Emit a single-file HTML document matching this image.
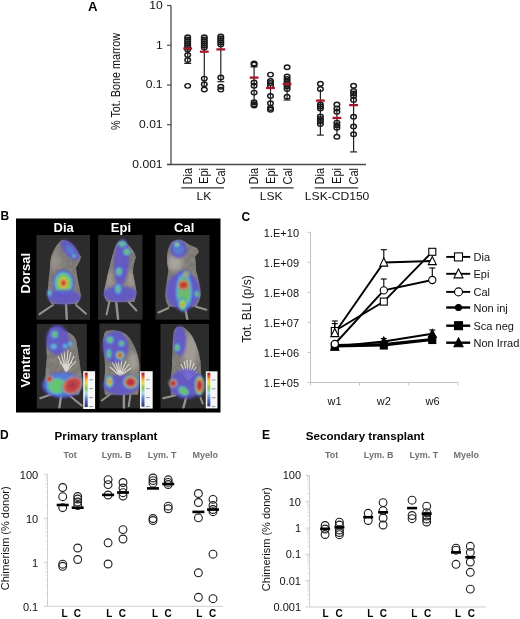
<!DOCTYPE html>
<html><head><meta charset="utf-8"><style>
html,body{margin:0;padding:0;background:#fff;}
svg{display:block;will-change:transform;}
text{font-family:"Liberation Sans", sans-serif;}
</style></head><body>
<svg width="520" height="619" viewBox="0 0 520 619">
<rect width="520" height="619" fill="#fff"/>
<line x1="171" y1="5.5" x2="171" y2="164.5" stroke="#4a4a4a" stroke-width="1.3"/>
<line x1="167" y1="164.5" x2="366" y2="164.5" stroke="#4a4a4a" stroke-width="1.3"/>
<line x1="167" y1="5.5" x2="171" y2="5.5" stroke="#4a4a4a" stroke-width="1.2"/>
<text transform="translate(162.6 8.9) scale(1.1 1)" font-size="11" text-anchor="end" fill="#111">10</text>
<line x1="167" y1="45.25" x2="171" y2="45.25" stroke="#4a4a4a" stroke-width="1.2"/>
<text transform="translate(162.6 48.65) scale(1.1 1)" font-size="11" text-anchor="end" fill="#111">1</text>
<line x1="167" y1="85.0" x2="171" y2="85.0" stroke="#4a4a4a" stroke-width="1.2"/>
<text transform="translate(162.6 88.4) scale(1.1 1)" font-size="11" text-anchor="end" fill="#111">0.1</text>
<line x1="167" y1="124.75" x2="171" y2="124.75" stroke="#4a4a4a" stroke-width="1.2"/>
<text transform="translate(162.6 128.15) scale(1.1 1)" font-size="11" text-anchor="end" fill="#111">0.01</text>
<line x1="167" y1="164.5" x2="171" y2="164.5" stroke="#4a4a4a" stroke-width="1.2"/>
<text transform="translate(162.6 167.9) scale(1.1 1)" font-size="11" text-anchor="end" fill="#111">0.001</text>
<text transform="translate(88 10.5) scale(1.1 1)" font-size="12" text-anchor="start" font-weight="bold" fill="#000">A</text>
<text transform="translate(119.6 81.5) scale(1.1 1) rotate(-90)" font-size="10.8" text-anchor="middle" fill="#111">% Tot. Bone marrow</text>
<text transform="translate(191.89999999999998 168) scale(1.1 1) rotate(-90)" font-size="11" text-anchor="end" fill="#111">Dia</text>
<text transform="translate(208.39999999999998 168) scale(1.1 1) rotate(-90)" font-size="11" text-anchor="end" fill="#111">Epi</text>
<text transform="translate(224.89999999999998 168) scale(1.1 1) rotate(-90)" font-size="11" text-anchor="end" fill="#111">Cal</text>
<line x1="181.3" y1="187.9" x2="224" y2="187.9" stroke="#333" stroke-width="1.3"/>
<text transform="translate(203.9 200) scale(1.1 1)" font-size="11" text-anchor="middle" fill="#111">LK</text>
<text transform="translate(258.3 168) scale(1.1 1) rotate(-90)" font-size="11" text-anchor="end" fill="#111">Dia</text>
<text transform="translate(275.0 168) scale(1.1 1) rotate(-90)" font-size="11" text-anchor="end" fill="#111">Epi</text>
<text transform="translate(292.09999999999997 168) scale(1.1 1) rotate(-90)" font-size="11" text-anchor="end" fill="#111">Cal</text>
<line x1="250.4" y1="187.9" x2="293.6" y2="187.9" stroke="#333" stroke-width="1.3"/>
<text transform="translate(271.1 200) scale(1.1 1)" font-size="11" text-anchor="middle" fill="#111">LSK</text>
<text transform="translate(324.2 168) scale(1.1 1) rotate(-90)" font-size="11" text-anchor="end" fill="#111">Dia</text>
<text transform="translate(340.8 168) scale(1.1 1) rotate(-90)" font-size="11" text-anchor="end" fill="#111">Epi</text>
<text transform="translate(358.0 168) scale(1.1 1) rotate(-90)" font-size="11" text-anchor="end" fill="#111">Cal</text>
<line x1="314.8" y1="187.9" x2="358.1" y2="187.9" stroke="#333" stroke-width="1.3"/>
<text transform="translate(337.1 200) scale(1.1 1)" font-size="11" text-anchor="middle" fill="#111">LSK-CD150</text>
<line x1="187.7" y1="37" x2="187.7" y2="63.4" stroke="#222" stroke-width="1.2"/>
<line x1="184.2" y1="63.4" x2="191.2" y2="63.4" stroke="#222" stroke-width="1.2"/>
<ellipse cx="187.7" cy="37.3" rx="2.8" ry="2.25" fill="none" stroke="#1a1a1a" stroke-width="1.45"/>
<ellipse cx="187.7" cy="39.5" rx="2.8" ry="2.25" fill="none" stroke="#1a1a1a" stroke-width="1.45"/>
<ellipse cx="187.7" cy="41.5" rx="2.8" ry="2.25" fill="none" stroke="#1a1a1a" stroke-width="1.45"/>
<ellipse cx="187.7" cy="43.5" rx="2.8" ry="2.25" fill="none" stroke="#1a1a1a" stroke-width="1.45"/>
<ellipse cx="187.7" cy="45.5" rx="2.8" ry="2.25" fill="none" stroke="#1a1a1a" stroke-width="1.45"/>
<ellipse cx="187.7" cy="47.5" rx="2.8" ry="2.25" fill="none" stroke="#1a1a1a" stroke-width="1.45"/>
<ellipse cx="187.7" cy="49.5" rx="2.8" ry="2.25" fill="none" stroke="#1a1a1a" stroke-width="1.45"/>
<ellipse cx="187.7" cy="55" rx="2.8" ry="2.25" fill="none" stroke="#1a1a1a" stroke-width="1.45"/>
<ellipse cx="187.7" cy="60" rx="2.8" ry="2.25" fill="none" stroke="#1a1a1a" stroke-width="1.45"/>
<ellipse cx="187.7" cy="85.85" rx="2.8" ry="2.25" fill="none" stroke="#1a1a1a" stroke-width="1.45"/>
<line x1="183.29999999999998" y1="48.5" x2="192.1" y2="48.5" stroke="#a8162a" stroke-width="2.3"/>
<line x1="204.3" y1="38" x2="204.3" y2="88" stroke="#222" stroke-width="1.2"/>
<ellipse cx="204.3" cy="37.2" rx="2.8" ry="2.25" fill="none" stroke="#1a1a1a" stroke-width="1.45"/>
<ellipse cx="204.3" cy="39.5" rx="2.8" ry="2.25" fill="none" stroke="#1a1a1a" stroke-width="1.45"/>
<ellipse cx="204.3" cy="41.5" rx="2.8" ry="2.25" fill="none" stroke="#1a1a1a" stroke-width="1.45"/>
<ellipse cx="204.3" cy="43.5" rx="2.8" ry="2.25" fill="none" stroke="#1a1a1a" stroke-width="1.45"/>
<ellipse cx="204.3" cy="45.5" rx="2.8" ry="2.25" fill="none" stroke="#1a1a1a" stroke-width="1.45"/>
<ellipse cx="204.3" cy="47.5" rx="2.8" ry="2.25" fill="none" stroke="#1a1a1a" stroke-width="1.45"/>
<ellipse cx="204.3" cy="78.6" rx="2.8" ry="2.25" fill="none" stroke="#1a1a1a" stroke-width="1.45"/>
<ellipse cx="204.3" cy="84.2" rx="2.8" ry="2.25" fill="none" stroke="#1a1a1a" stroke-width="1.45"/>
<ellipse cx="204.3" cy="89.4" rx="2.8" ry="2.25" fill="none" stroke="#1a1a1a" stroke-width="1.45"/>
<line x1="199.9" y1="51.7" x2="208.70000000000002" y2="51.7" stroke="#a8162a" stroke-width="2.3"/>
<line x1="220.8" y1="37" x2="220.8" y2="81.7" stroke="#222" stroke-width="1.2"/>
<line x1="217.3" y1="81.7" x2="224.3" y2="81.7" stroke="#222" stroke-width="1.2"/>
<ellipse cx="220.8" cy="36.4" rx="2.8" ry="2.25" fill="none" stroke="#1a1a1a" stroke-width="1.45"/>
<ellipse cx="220.8" cy="38.5" rx="2.8" ry="2.25" fill="none" stroke="#1a1a1a" stroke-width="1.45"/>
<ellipse cx="220.8" cy="40.5" rx="2.8" ry="2.25" fill="none" stroke="#1a1a1a" stroke-width="1.45"/>
<ellipse cx="220.8" cy="42.5" rx="2.8" ry="2.25" fill="none" stroke="#1a1a1a" stroke-width="1.45"/>
<ellipse cx="220.8" cy="44.5" rx="2.8" ry="2.25" fill="none" stroke="#1a1a1a" stroke-width="1.45"/>
<ellipse cx="220.8" cy="77.5" rx="2.8" ry="2.25" fill="none" stroke="#1a1a1a" stroke-width="1.45"/>
<ellipse cx="220.8" cy="86.8" rx="2.8" ry="2.25" fill="none" stroke="#1a1a1a" stroke-width="1.45"/>
<ellipse cx="220.8" cy="89.6" rx="2.8" ry="2.25" fill="none" stroke="#1a1a1a" stroke-width="1.45"/>
<line x1="216.4" y1="49.4" x2="225.20000000000002" y2="49.4" stroke="#a8162a" stroke-width="2.3"/>
<line x1="254.1" y1="66.8" x2="254.1" y2="104" stroke="#222" stroke-width="1.2"/>
<line x1="250.6" y1="66.8" x2="257.6" y2="66.8" stroke="#222" stroke-width="1.2"/>
<ellipse cx="254.1" cy="63.5" rx="2.8" ry="2.25" fill="none" stroke="#1a1a1a" stroke-width="1.45"/>
<ellipse cx="254.1" cy="64.5" rx="2.8" ry="2.25" fill="none" stroke="#1a1a1a" stroke-width="1.45"/>
<ellipse cx="254.1" cy="82.5" rx="2.8" ry="2.25" fill="none" stroke="#1a1a1a" stroke-width="1.45"/>
<ellipse cx="254.1" cy="85.7" rx="2.8" ry="2.25" fill="none" stroke="#1a1a1a" stroke-width="1.45"/>
<ellipse cx="254.1" cy="92.6" rx="2.8" ry="2.25" fill="none" stroke="#1a1a1a" stroke-width="1.45"/>
<ellipse cx="254.1" cy="102.3" rx="2.8" ry="2.25" fill="none" stroke="#1a1a1a" stroke-width="1.45"/>
<ellipse cx="254.1" cy="104.2" rx="2.8" ry="2.25" fill="none" stroke="#1a1a1a" stroke-width="1.45"/>
<ellipse cx="254.1" cy="105.5" rx="2.8" ry="2.25" fill="none" stroke="#1a1a1a" stroke-width="1.45"/>
<line x1="249.7" y1="77.6" x2="258.5" y2="77.6" stroke="#a8162a" stroke-width="2.3"/>
<line x1="270.5" y1="85" x2="270.5" y2="108" stroke="#222" stroke-width="1.2"/>
<ellipse cx="270.5" cy="74.6" rx="2.8" ry="2.25" fill="none" stroke="#1a1a1a" stroke-width="1.45"/>
<ellipse cx="270.5" cy="81" rx="2.8" ry="2.25" fill="none" stroke="#1a1a1a" stroke-width="1.45"/>
<ellipse cx="270.5" cy="83" rx="2.8" ry="2.25" fill="none" stroke="#1a1a1a" stroke-width="1.45"/>
<ellipse cx="270.5" cy="85.5" rx="2.8" ry="2.25" fill="none" stroke="#1a1a1a" stroke-width="1.45"/>
<ellipse cx="270.5" cy="95.9" rx="2.8" ry="2.25" fill="none" stroke="#1a1a1a" stroke-width="1.45"/>
<ellipse cx="270.5" cy="103.2" rx="2.8" ry="2.25" fill="none" stroke="#1a1a1a" stroke-width="1.45"/>
<ellipse cx="270.5" cy="107.9" rx="2.8" ry="2.25" fill="none" stroke="#1a1a1a" stroke-width="1.45"/>
<ellipse cx="270.5" cy="109.7" rx="2.8" ry="2.25" fill="none" stroke="#1a1a1a" stroke-width="1.45"/>
<line x1="266.1" y1="88" x2="274.9" y2="88" stroke="#a8162a" stroke-width="2.3"/>
<line x1="287.1" y1="78" x2="287.1" y2="100" stroke="#222" stroke-width="1.2"/>
<line x1="283.6" y1="100" x2="290.6" y2="100" stroke="#222" stroke-width="1.2"/>
<ellipse cx="287.1" cy="67.2" rx="2.8" ry="2.25" fill="none" stroke="#1a1a1a" stroke-width="1.45"/>
<ellipse cx="287.1" cy="76.5" rx="2.8" ry="2.25" fill="none" stroke="#1a1a1a" stroke-width="1.45"/>
<ellipse cx="287.1" cy="79" rx="2.8" ry="2.25" fill="none" stroke="#1a1a1a" stroke-width="1.45"/>
<ellipse cx="287.1" cy="81.5" rx="2.8" ry="2.25" fill="none" stroke="#1a1a1a" stroke-width="1.45"/>
<ellipse cx="287.1" cy="84" rx="2.8" ry="2.25" fill="none" stroke="#1a1a1a" stroke-width="1.45"/>
<ellipse cx="287.1" cy="86.5" rx="2.8" ry="2.25" fill="none" stroke="#1a1a1a" stroke-width="1.45"/>
<ellipse cx="287.1" cy="89" rx="2.8" ry="2.25" fill="none" stroke="#1a1a1a" stroke-width="1.45"/>
<ellipse cx="287.1" cy="96.8" rx="2.8" ry="2.25" fill="none" stroke="#1a1a1a" stroke-width="1.45"/>
<line x1="282.70000000000005" y1="84" x2="291.5" y2="84" stroke="#a8162a" stroke-width="2.3"/>
<line x1="320.4" y1="89" x2="320.4" y2="135.1" stroke="#222" stroke-width="1.2"/>
<line x1="316.9" y1="135.1" x2="323.9" y2="135.1" stroke="#222" stroke-width="1.2"/>
<ellipse cx="320.4" cy="83.8" rx="2.8" ry="2.25" fill="none" stroke="#1a1a1a" stroke-width="1.45"/>
<ellipse cx="320.4" cy="89" rx="2.8" ry="2.25" fill="none" stroke="#1a1a1a" stroke-width="1.45"/>
<ellipse cx="320.4" cy="104.5" rx="2.8" ry="2.25" fill="none" stroke="#1a1a1a" stroke-width="1.45"/>
<ellipse cx="320.4" cy="106.5" rx="2.8" ry="2.25" fill="none" stroke="#1a1a1a" stroke-width="1.45"/>
<ellipse cx="320.4" cy="108.5" rx="2.8" ry="2.25" fill="none" stroke="#1a1a1a" stroke-width="1.45"/>
<ellipse cx="320.4" cy="116.5" rx="2.8" ry="2.25" fill="none" stroke="#1a1a1a" stroke-width="1.45"/>
<ellipse cx="320.4" cy="119" rx="2.8" ry="2.25" fill="none" stroke="#1a1a1a" stroke-width="1.45"/>
<ellipse cx="320.4" cy="121.5" rx="2.8" ry="2.25" fill="none" stroke="#1a1a1a" stroke-width="1.45"/>
<ellipse cx="320.4" cy="124" rx="2.8" ry="2.25" fill="none" stroke="#1a1a1a" stroke-width="1.45"/>
<line x1="316.0" y1="100.6" x2="324.79999999999995" y2="100.6" stroke="#a8162a" stroke-width="2.3"/>
<line x1="336.9" y1="108" x2="336.9" y2="135" stroke="#222" stroke-width="1.2"/>
<ellipse cx="336.9" cy="104.5" rx="2.8" ry="2.25" fill="none" stroke="#1a1a1a" stroke-width="1.45"/>
<ellipse cx="336.9" cy="108.4" rx="2.8" ry="2.25" fill="none" stroke="#1a1a1a" stroke-width="1.45"/>
<ellipse cx="336.9" cy="111.8" rx="2.8" ry="2.25" fill="none" stroke="#1a1a1a" stroke-width="1.45"/>
<ellipse cx="336.9" cy="122.6" rx="2.8" ry="2.25" fill="none" stroke="#1a1a1a" stroke-width="1.45"/>
<ellipse cx="336.9" cy="125.2" rx="2.8" ry="2.25" fill="none" stroke="#1a1a1a" stroke-width="1.45"/>
<ellipse cx="336.9" cy="127.7" rx="2.8" ry="2.25" fill="none" stroke="#1a1a1a" stroke-width="1.45"/>
<ellipse cx="336.9" cy="136.8" rx="2.8" ry="2.25" fill="none" stroke="#1a1a1a" stroke-width="1.45"/>
<line x1="332.5" y1="118" x2="341.29999999999995" y2="118" stroke="#a8162a" stroke-width="2.3"/>
<line x1="353.6" y1="92" x2="353.6" y2="151.9" stroke="#222" stroke-width="1.2"/>
<line x1="350.1" y1="151.9" x2="357.1" y2="151.9" stroke="#222" stroke-width="1.2"/>
<ellipse cx="353.6" cy="85.8" rx="2.8" ry="2.25" fill="none" stroke="#1a1a1a" stroke-width="1.45"/>
<ellipse cx="353.6" cy="91" rx="2.8" ry="2.25" fill="none" stroke="#1a1a1a" stroke-width="1.45"/>
<ellipse cx="353.6" cy="93.5" rx="2.8" ry="2.25" fill="none" stroke="#1a1a1a" stroke-width="1.45"/>
<ellipse cx="353.6" cy="96" rx="2.8" ry="2.25" fill="none" stroke="#1a1a1a" stroke-width="1.45"/>
<ellipse cx="353.6" cy="100" rx="2.8" ry="2.25" fill="none" stroke="#1a1a1a" stroke-width="1.45"/>
<ellipse cx="353.6" cy="116.8" rx="2.8" ry="2.25" fill="none" stroke="#1a1a1a" stroke-width="1.45"/>
<ellipse cx="353.6" cy="126.4" rx="2.8" ry="2.25" fill="none" stroke="#1a1a1a" stroke-width="1.45"/>
<ellipse cx="353.6" cy="134.2" rx="2.8" ry="2.25" fill="none" stroke="#1a1a1a" stroke-width="1.45"/>
<line x1="349.20000000000005" y1="105.1" x2="358.0" y2="105.1" stroke="#a8162a" stroke-width="2.3"/>
<defs><filter id="bl1" x="-20%" y="-20%" width="140%" height="140%"><feGaussianBlur stdDeviation="1.2"/></filter><filter id="bl2" x="-20%" y="-20%" width="140%" height="140%"><feGaussianBlur stdDeviation="0.7"/></filter><filter id="bl3" x="-50%" y="-50%" width="200%" height="200%"><feGaussianBlur stdDeviation="2.5"/></filter><filter id="fur" x="0" y="0" width="100%" height="100%"><feTurbulence type="fractalNoise" baseFrequency="0.22" numOctaves="2" seed="7"/><feColorMatrix type="matrix" values="0 0 0 0 0.35  0 0 0 0 0.33  0 0 0 0 0.31  0 0 0 1.6 -0.55"/></filter><linearGradient id="cbar" x1="0" y1="0" x2="0" y2="1"><stop offset="0" stop-color="#8a1e1e"/><stop offset="0.08" stop-color="#d84030"/><stop offset="0.2" stop-color="#f0b040"/><stop offset="0.3" stop-color="#e8e050"/><stop offset="0.45" stop-color="#80c860"/><stop offset="0.6" stop-color="#a8dce4"/><stop offset="0.78" stop-color="#5878d0"/><stop offset="1" stop-color="#283070"/></linearGradient></defs>
<text x="0.5" y="220" font-size="12" text-anchor="start" font-weight="bold" fill="#000">B</text>
<rect x="16" y="218.5" width="204.5" height="194" fill="#000"/>
<text x="63.7" y="232.3" font-size="13" text-anchor="middle" font-weight="bold" fill="#fff">Dia</text>
<text x="120.9" y="232.3" font-size="13" text-anchor="middle" font-weight="bold" fill="#fff">Epi</text>
<text x="184.2" y="232.3" font-size="13" text-anchor="middle" font-weight="bold" fill="#fff">Cal</text>
<text x="30.1" y="273.2" font-size="13" text-anchor="middle" font-weight="bold" fill="#fff" transform="rotate(-90 30.1 273.2)">Dorsal</text>
<text x="30.1" y="365.7" font-size="13" text-anchor="middle" font-weight="bold" fill="#fff" transform="rotate(-90 30.1 365.7)">Ventral</text>
<defs>
<clipPath id="cd1"><rect x="36.5" y="235" width="53.5" height="84.69999999999999"/></clipPath>
<clipPath id="cd2"><rect x="98.1" y="235" width="44.400000000000006" height="84.69999999999999"/></clipPath>
<clipPath id="cd3"><rect x="155.5" y="235" width="54.0" height="84.69999999999999"/></clipPath>
<clipPath id="cv1"><rect x="36.8" y="323.9" width="50.0" height="84.70000000000005"/></clipPath>
<clipPath id="cv2"><rect x="99.4" y="323.5" width="41.29999999999998" height="84.89999999999998"/></clipPath>
<clipPath id="cv3"><rect x="160.5" y="324" width="48.5" height="84.39999999999998"/></clipPath>
</defs>
<rect x="36.5" y="235" width="53.5" height="84.69999999999999" fill="#2c2c2c"/>
<rect x="98.1" y="235" width="44.400000000000006" height="84.69999999999999" fill="#2c2c2c"/>
<rect x="155.5" y="235" width="54.0" height="84.69999999999999" fill="#2c2c2c"/>
<rect x="36.8" y="323.9" width="50.0" height="84.70000000000005" fill="#2c2c2c"/>
<rect x="99.4" y="323.5" width="41.29999999999998" height="84.89999999999998" fill="#2c2c2c"/>
<rect x="160.5" y="324" width="48.5" height="84.39999999999998" fill="#2c2c2c"/>
<g clip-path="url(#cd1)">
<clipPath id="mb1"><path d="M62,240 C70,239 76,248 81,257 C80,262 77,265 76,268 C77,278 80,288 81,296 C80,300 78,303 77,304 L51.5,304 C49,300 47.5,296 47.7,294 C48,285 49,276 50,267 C50,262 51,257 52,254 C55,248 58,242 62,240 Z"/></clipPath>
<g filter="url(#bl2)">
<line x1="53" y1="305" x2="39.5" y2="314.2" stroke="#96928e" stroke-width="2.0" stroke-linecap="round"/>
<line x1="76" y1="305" x2="86" y2="313.7" stroke="#96928e" stroke-width="2.0" stroke-linecap="round"/>
<line x1="66" y1="303" x2="66.8" y2="319.5" stroke="#96928e" stroke-width="2.4" stroke-linecap="round"/>
<path d="M62,240 C70,239 76,248 81,257 C80,262 77,265 76,268 C77,278 80,288 81,296 C80,300 78,303 77,304 L51.5,304 C49,300 47.5,296 47.7,294 C48,285 49,276 50,267 C50,262 51,257 52,254 C55,248 58,242 62,240 Z" fill="#85807b" opacity="0.9"/>
<g clip-path="url(#mb1)"><g filter="url(#bl3)"><ellipse cx="55" cy="262" rx="5" ry="9" fill="#a39d96" opacity="0.7"/></g></g>
<g clip-path="url(#mb1)"><rect x="30" y="230" width="190" height="185" filter="url(#fur)" opacity="0.55"/></g>
</g>
<g filter="url(#bl1)">
<g transform="rotate(-40 70 250)" opacity="0.8"><ellipse cx="70" cy="250" rx="6.00" ry="12.50" fill="#5c52d2"/><ellipse cx="70" cy="250" rx="2.70" ry="5.62" fill="#4a7ee8"/></g>
<g transform="rotate(0 74 256)" opacity="0.8"><ellipse cx="74" cy="256" rx="2.50" ry="2.50" fill="#5c52d2"/><ellipse cx="74" cy="256" rx="2.12" ry="2.12" fill="#4a7ee8"/><ellipse cx="74" cy="256" rx="1.75" ry="1.75" fill="#62d0d8"/></g>
<g transform="rotate(0 63.5 283)" opacity="0.8"><ellipse cx="63.5" cy="283" rx="11.00" ry="13.50" fill="#5c52d2"/><ellipse cx="63.5" cy="283" rx="9.68" ry="11.88" fill="#4a7ee8"/><ellipse cx="63.5" cy="283" rx="8.58" ry="10.53" fill="#62d0d8"/><ellipse cx="63.5" cy="283" rx="7.26" ry="8.91" fill="#6cd658"/><ellipse cx="63.5" cy="283" rx="4.62" ry="5.67" fill="#e8e03c"/><ellipse cx="63.5" cy="283" rx="3.30" ry="4.05" fill="#ee8a2a"/><ellipse cx="63.5" cy="283" rx="2.20" ry="2.70" fill="#e0382a"/><ellipse cx="63.5" cy="283" rx="1.10" ry="1.35" fill="#c42424"/></g>
<g transform="rotate(0 64 297)" opacity="0.8"><ellipse cx="64" cy="297" rx="16.50" ry="7.50" fill="#5c52d2"/></g>
<g transform="rotate(0 49.5 293)" opacity="0.8"><ellipse cx="49.5" cy="293" rx="2.50" ry="4.00" fill="#5c52d2"/><ellipse cx="49.5" cy="293" rx="2.12" ry="3.40" fill="#4a7ee8"/><ellipse cx="49.5" cy="293" rx="1.75" ry="2.80" fill="#62d0d8"/></g>
</g></g>
<g clip-path="url(#cd2)">
<clipPath id="mb2"><path d="M121.5,240.7 C126,241 132,248 134.5,253 L136,257.6 C134,262 133,268 133,273 C134,280 136,286 136.4,291.4 C136.4,296 135,300 134.5,302 L107,302 C104.5,298 103.7,295 104,291.4 C105,285 107,279 108,273 C110,265 112,256 114.6,248.4 C116,244 118,241 121.5,240.7 Z"/></clipPath>
<g filter="url(#bl2)">
<line x1="109.5" y1="301" x2="106.6" y2="314.4" stroke="#96928e" stroke-width="2.0" stroke-linecap="round"/>
<line x1="127.7" y1="301" x2="136.4" y2="310.5" stroke="#96928e" stroke-width="2.0" stroke-linecap="round"/>
<line x1="116.2" y1="302" x2="118.1" y2="319.2" stroke="#96928e" stroke-width="2.4" stroke-linecap="round"/>
<path d="M121.5,240.7 C126,241 132,248 134.5,253 L136,257.6 C134,262 133,268 133,273 C134,280 136,286 136.4,291.4 C136.4,296 135,300 134.5,302 L107,302 C104.5,298 103.7,295 104,291.4 C105,285 107,279 108,273 C110,265 112,256 114.6,248.4 C116,244 118,241 121.5,240.7 Z" fill="#85807b" opacity="0.9"/>
<g clip-path="url(#mb2)"><g filter="url(#bl3)"><ellipse cx="109.5" cy="280" rx="4" ry="9" fill="#aaa396" opacity="0.8"/><ellipse cx="130.5" cy="280" rx="4" ry="9" fill="#aaa396" opacity="0.8"/></g></g>
<g clip-path="url(#mb2)"><rect x="30" y="230" width="190" height="185" filter="url(#fur)" opacity="0.55"/></g>
</g>
<g filter="url(#bl1)">
<g transform="rotate(3 121.5 262)" opacity="0.8"><ellipse cx="121.5" cy="262" rx="7.50" ry="23.00" fill="#5c52d2"/></g>
<g transform="rotate(0 120 294)" opacity="0.8"><ellipse cx="120" cy="294" rx="16.50" ry="8.00" fill="#5c52d2"/></g>
<g transform="rotate(0 122.4 244.1)" opacity="0.8"><ellipse cx="122.4" cy="244.1" rx="5.00" ry="3.80" fill="#5c52d2"/><ellipse cx="122.4" cy="244.1" rx="4.25" ry="3.23" fill="#4a7ee8"/><ellipse cx="122.4" cy="244.1" rx="3.50" ry="2.66" fill="#62d0d8"/><ellipse cx="122.4" cy="244.1" rx="2.75" ry="2.09" fill="#6cd658"/></g>
<g transform="rotate(-20 126.8 251.8)" opacity="0.8"><ellipse cx="126.8" cy="251.8" rx="4.50" ry="4.50" fill="#5c52d2"/><ellipse cx="126.8" cy="251.8" rx="3.82" ry="3.82" fill="#4a7ee8"/><ellipse cx="126.8" cy="251.8" rx="3.15" ry="3.15" fill="#62d0d8"/><ellipse cx="126.8" cy="251.8" rx="2.48" ry="2.48" fill="#6cd658"/></g>
<g transform="rotate(0 119 271.5)" opacity="0.8"><ellipse cx="119" cy="271.5" rx="4.20" ry="5.50" fill="#5c52d2"/><ellipse cx="119" cy="271.5" rx="3.57" ry="4.67" fill="#4a7ee8"/><ellipse cx="119" cy="271.5" rx="2.94" ry="3.85" fill="#62d0d8"/><ellipse cx="119" cy="271.5" rx="2.10" ry="2.75" fill="#6cd658"/></g>
<g transform="rotate(0 118.1 289)" opacity="0.8"><ellipse cx="118.1" cy="289" rx="4.50" ry="7.00" fill="#5c52d2"/><ellipse cx="118.1" cy="289" rx="3.60" ry="5.60" fill="#4a7ee8"/><ellipse cx="118.1" cy="289" rx="2.70" ry="4.20" fill="#62d0d8"/><ellipse cx="118.1" cy="289" rx="1.80" ry="2.80" fill="#6cd658"/></g>
</g></g>
<g clip-path="url(#cd3)">
<clipPath id="mb3"><path d="M172,242 C178,238 184,240 188,244 L197,248 L199,252 L195,257 C196,262 196,266 196,270 C198,278 200.7,288 200.7,294.5 C200,300 198,304 196,306.8 L168.4,306.8 C166,302 165,298 165.4,294.5 C166,285 167.5,277 168.4,270 C167,264 166.5,257 167.5,252 C168.5,248 170,244 172,242 Z"/></clipPath>
<g filter="url(#bl2)">
<line x1="168.4" y1="308" x2="158.5" y2="312.5" stroke="#96928e" stroke-width="2.0" stroke-linecap="round"/>
<line x1="196" y1="306.8" x2="206.4" y2="309.7" stroke="#96928e" stroke-width="2.0" stroke-linecap="round"/>
<line x1="185.3" y1="309" x2="187.4" y2="319.7" stroke="#96928e" stroke-width="2.4" stroke-linecap="round"/>
<path d="M172,242 C178,238 184,240 188,244 L197,248 L199,252 L195,257 C196,262 196,266 196,270 C198,278 200.7,288 200.7,294.5 C200,300 198,304 196,306.8 L168.4,306.8 C166,302 165,298 165.4,294.5 C166,285 167.5,277 168.4,270 C167,264 166.5,257 167.5,252 C168.5,248 170,244 172,242 Z" fill="#85807b" opacity="0.9"/>
<g clip-path="url(#mb3)"><g filter="url(#bl3)"><ellipse cx="175" cy="263" rx="8" ry="8" fill="#b0aca6" opacity="0.9"/></g></g>
<g clip-path="url(#mb3)"><rect x="30" y="230" width="190" height="185" filter="url(#fur)" opacity="0.55"/></g>
</g>
<g filter="url(#bl1)">
<g transform="rotate(-20 178.5 249)" opacity="0.8"><ellipse cx="178.5" cy="249" rx="8.50" ry="9.00" fill="#5c52d2"/><ellipse cx="178.5" cy="249" rx="5.10" ry="5.40" fill="#4a7ee8"/></g>
<g transform="rotate(0 176.9 244.6)" opacity="0.8"><ellipse cx="176.9" cy="244.6" rx="4.00" ry="3.50" fill="#5c52d2"/><ellipse cx="176.9" cy="244.6" rx="3.40" ry="2.98" fill="#4a7ee8"/><ellipse cx="176.9" cy="244.6" rx="2.80" ry="2.45" fill="#62d0d8"/><ellipse cx="176.9" cy="244.6" rx="2.00" ry="1.75" fill="#6cd658"/><ellipse cx="176.9" cy="244.6" rx="1.20" ry="1.05" fill="#e8e03c"/></g>
<g transform="rotate(0 183 291)" opacity="0.8"><ellipse cx="183" cy="291" rx="17.00" ry="19.00" fill="#5c52d2"/></g>
<g transform="rotate(0 184 291)" opacity="0.8"><ellipse cx="184" cy="291" rx="9.50" ry="21.00" fill="#5c52d2"/><ellipse cx="184" cy="291" rx="8.55" ry="18.90" fill="#4a7ee8"/><ellipse cx="184" cy="291" rx="7.60" ry="16.80" fill="#62d0d8"/><ellipse cx="184" cy="291" rx="6.46" ry="14.28" fill="#6cd658"/></g>
<g transform="rotate(0 186 274.5)" opacity="0.8"><ellipse cx="186" cy="274.5" rx="3.80" ry="4.20" fill="#5c52d2"/><ellipse cx="186" cy="274.5" rx="3.23" ry="3.57" fill="#4a7ee8"/><ellipse cx="186" cy="274.5" rx="2.85" ry="3.15" fill="#62d0d8"/><ellipse cx="186" cy="274.5" rx="2.47" ry="2.73" fill="#6cd658"/><ellipse cx="186" cy="274.5" rx="1.90" ry="2.10" fill="#e8e03c"/><ellipse cx="186" cy="274.5" rx="1.52" ry="1.68" fill="#ee8a2a"/><ellipse cx="186" cy="274.5" rx="1.06" ry="1.18" fill="#e0382a"/></g>
<g transform="rotate(0 183.5 285.1)" opacity="0.8"><ellipse cx="183.5" cy="285.1" rx="6.80" ry="5.80" fill="#5c52d2"/><ellipse cx="183.5" cy="285.1" rx="6.46" ry="5.51" fill="#4a7ee8"/><ellipse cx="183.5" cy="285.1" rx="6.12" ry="5.22" fill="#62d0d8"/><ellipse cx="183.5" cy="285.1" rx="5.85" ry="4.99" fill="#6cd658"/><ellipse cx="183.5" cy="285.1" rx="5.58" ry="4.76" fill="#e8e03c"/><ellipse cx="183.5" cy="285.1" rx="5.30" ry="4.52" fill="#ee8a2a"/><ellipse cx="183.5" cy="285.1" rx="4.90" ry="4.18" fill="#e0382a"/><ellipse cx="183.5" cy="285.1" rx="2.72" ry="2.32" fill="#c42424"/></g>
<g transform="rotate(0 182.5 304.5)" opacity="0.8"><ellipse cx="182.5" cy="304.5" rx="4.50" ry="7.00" fill="#5c52d2"/><ellipse cx="182.5" cy="304.5" rx="4.05" ry="6.30" fill="#4a7ee8"/><ellipse cx="182.5" cy="304.5" rx="3.60" ry="5.60" fill="#62d0d8"/><ellipse cx="182.5" cy="304.5" rx="3.15" ry="4.90" fill="#6cd658"/><ellipse cx="182.5" cy="304.5" rx="2.02" ry="3.15" fill="#e8e03c"/><ellipse cx="182.5" cy="304.5" rx="1.35" ry="2.10" fill="#ee8a2a"/><ellipse cx="182.5" cy="304.5" rx="0.81" ry="1.26" fill="#e0382a"/></g>
<g transform="rotate(0 196.9 294)" opacity="0.8"><ellipse cx="196.9" cy="294" rx="3.00" ry="4.00" fill="#5c52d2"/><ellipse cx="196.9" cy="294" rx="2.55" ry="3.40" fill="#4a7ee8"/><ellipse cx="196.9" cy="294" rx="2.10" ry="2.80" fill="#62d0d8"/><ellipse cx="196.9" cy="294" rx="1.74" ry="2.32" fill="#6cd658"/></g>
</g></g>
<g clip-path="url(#cv1)">
<clipPath id="mb4"><path d="M50,329 C54,326 60,327 62,330 C68,332 74,334 76,340 C78,350 80,365 82.2,379 C82,386 80,391 79,394.8 L48.4,394.8 C46,390 45,384 45.4,379 C45.5,372 46,364 46.9,356 C46,348 46.5,338 50,329 Z"/></clipPath>
<g filter="url(#bl2)">
<line x1="51.6" y1="394.2" x2="40.2" y2="398.3" stroke="#96928e" stroke-width="2.0" stroke-linecap="round"/>
<line x1="70.3" y1="396.3" x2="81.7" y2="405.6" stroke="#96928e" stroke-width="2.0" stroke-linecap="round"/>
<line x1="61" y1="396" x2="59.4" y2="407.7" stroke="#96928e" stroke-width="2.4" stroke-linecap="round"/>
<path d="M50,329 C54,326 60,327 62,330 C68,332 74,334 76,340 C78,350 80,365 82.2,379 C82,386 80,391 79,394.8 L48.4,394.8 C46,390 45,384 45.4,379 C45.5,372 46,364 46.9,356 C46,348 46.5,338 50,329 Z" fill="#85807b" opacity="0.9"/>
<g clip-path="url(#mb4)"><rect x="30" y="230" width="190" height="185" filter="url(#fur)" opacity="0.55"/></g>
<path d="M66,372 L58,356 M66,372 L61,352 M66,372 L64,350 M66,372 L68,350 M66,372 L71,352 M66,372 L74,356 M66,372 L76,361 M60,362 L64,366 M72,362 L68,366" stroke="#e4e2dc" stroke-width="1.1" fill="none" opacity="0.9"/>
</g>
<g filter="url(#bl1)">
<g transform="rotate(0 57.5 340)" opacity="0.8"><ellipse cx="57.5" cy="340" rx="11.50" ry="15.00" fill="#5c52d2"/></g>
<g transform="rotate(0 54.7 334.5)" opacity="0.8"><ellipse cx="54.7" cy="334.5" rx="4.50" ry="5.00" fill="#5c52d2"/><ellipse cx="54.7" cy="334.5" rx="3.82" ry="4.25" fill="#4a7ee8"/><ellipse cx="54.7" cy="334.5" rx="3.15" ry="3.50" fill="#62d0d8"/><ellipse cx="54.7" cy="334.5" rx="2.48" ry="2.75" fill="#6cd658"/></g>
<g transform="rotate(0 53.7 346.4)" opacity="0.8"><ellipse cx="53.7" cy="346.4" rx="4.00" ry="3.50" fill="#5c52d2"/><ellipse cx="53.7" cy="346.4" rx="3.40" ry="2.98" fill="#4a7ee8"/><ellipse cx="53.7" cy="346.4" rx="2.80" ry="2.45" fill="#62d0d8"/></g>
<g transform="rotate(0 65 346)" opacity="0.8"><ellipse cx="65" cy="346" rx="3.00" ry="3.00" fill="#5c52d2"/><ellipse cx="65" cy="346" rx="2.55" ry="2.55" fill="#4a7ee8"/><ellipse cx="65" cy="346" rx="2.10" ry="2.10" fill="#62d0d8"/></g>
<g transform="rotate(0 70.3 343.8)" opacity="0.8"><ellipse cx="70.3" cy="343.8" rx="3.00" ry="3.00" fill="#5c52d2"/><ellipse cx="70.3" cy="343.8" rx="2.55" ry="2.55" fill="#4a7ee8"/><ellipse cx="70.3" cy="343.8" rx="2.10" ry="2.10" fill="#62d0d8"/></g>
<g transform="rotate(0 62 385)" opacity="0.85"><ellipse cx="62" cy="385" rx="20.00" ry="13.00" fill="#5c52d2"/><ellipse cx="62" cy="385" rx="18.00" ry="11.70" fill="#4a7ee8"/></g>
<g transform="rotate(0 57 386)" opacity="0.8"><ellipse cx="57" cy="386" rx="11.00" ry="9.00" fill="#5c52d2"/><ellipse cx="57" cy="386" rx="10.45" ry="8.55" fill="#4a7ee8"/><ellipse cx="57" cy="386" rx="9.90" ry="8.10" fill="#62d0d8"/><ellipse cx="57" cy="386" rx="8.80" ry="7.20" fill="#6cd658"/></g>
<g transform="rotate(-30 72.3 385.4)" opacity="0.8"><ellipse cx="72.3" cy="385.4" rx="11.50" ry="9.00" fill="#5c52d2"/><ellipse cx="72.3" cy="385.4" rx="10.92" ry="8.55" fill="#4a7ee8"/><ellipse cx="72.3" cy="385.4" rx="10.35" ry="8.10" fill="#62d0d8"/><ellipse cx="72.3" cy="385.4" rx="10.12" ry="7.92" fill="#6cd658"/><ellipse cx="72.3" cy="385.4" rx="9.89" ry="7.74" fill="#e8e03c"/><ellipse cx="72.3" cy="385.4" rx="9.66" ry="7.56" fill="#ee8a2a"/><ellipse cx="72.3" cy="385.4" rx="9.20" ry="7.20" fill="#e0382a"/><ellipse cx="72.3" cy="385.4" rx="3.45" ry="2.70" fill="#c42424"/></g>
<g transform="rotate(0 49.5 379.1)" opacity="0.8"><ellipse cx="49.5" cy="379.1" rx="4.00" ry="4.00" fill="#5c52d2"/><ellipse cx="49.5" cy="379.1" rx="3.80" ry="3.80" fill="#4a7ee8"/><ellipse cx="49.5" cy="379.1" rx="3.60" ry="3.60" fill="#62d0d8"/><ellipse cx="49.5" cy="379.1" rx="3.40" ry="3.40" fill="#6cd658"/><ellipse cx="49.5" cy="379.1" rx="3.20" ry="3.20" fill="#e8e03c"/><ellipse cx="49.5" cy="379.1" rx="3.00" ry="3.00" fill="#ee8a2a"/><ellipse cx="49.5" cy="379.1" rx="2.60" ry="2.60" fill="#e0382a"/><ellipse cx="49.5" cy="379.1" rx="1.60" ry="1.60" fill="#c42424"/></g>
</g></g>
<g clip-path="url(#cv2)">
<clipPath id="mb5"><path d="M106,331 C112,329 122,331 127,335 C133,341 138,352 139.3,364 C140,374 139.5,386 138,394.8 L105,394.8 C103.5,388 104,380 105,372 C105.5,362 103.5,350 103.2,341 C103.5,336 104.5,332 106,331 Z"/></clipPath>
<g filter="url(#bl2)">
<line x1="112.3" y1="392.8" x2="101.8" y2="400.5" stroke="#96928e" stroke-width="2.0" stroke-linecap="round"/>
<line x1="123.9" y1="393.7" x2="123.9" y2="408.2" stroke="#96928e" stroke-width="2.4" stroke-linecap="round"/>
<line x1="130.6" y1="393.7" x2="128.7" y2="406.2" stroke="#96928e" stroke-width="2.0" stroke-linecap="round"/>
<path d="M106,331 C112,329 122,331 127,335 C133,341 138,352 139.3,364 C140,374 139.5,386 138,394.8 L105,394.8 C103.5,388 104,380 105,372 C105.5,362 103.5,350 103.2,341 C103.5,336 104.5,332 106,331 Z" fill="#85807b" opacity="0.9"/>
<g clip-path="url(#mb5)"><g filter="url(#bl3)"><ellipse cx="133" cy="362" rx="5" ry="10" fill="#aaa69f" opacity="0.9"/></g></g>
<g clip-path="url(#mb5)"><rect x="30" y="230" width="190" height="185" filter="url(#fur)" opacity="0.55"/></g>
<path d="M120,376 L112,362 M120,376 L115,360 M120,376 L118,359 M120,376 L122,359 M120,376 L126,361 M120,376 L129,364 M120,376 L110,367 M120,376 L131,368" stroke="#e4e2dc" stroke-width="1.1" fill="none" opacity="0.9"/>
</g>
<g filter="url(#bl1)">
<g transform="rotate(0 115.5 347)" opacity="0.8"><ellipse cx="115.5" cy="347" rx="13.00" ry="16.00" fill="#5c52d2"/></g>
<g transform="rotate(0 110 339.8)" opacity="0.8"><ellipse cx="110" cy="339.8" rx="4.80" ry="4.80" fill="#5c52d2"/><ellipse cx="110" cy="339.8" rx="4.08" ry="4.08" fill="#4a7ee8"/><ellipse cx="110" cy="339.8" rx="3.36" ry="3.36" fill="#62d0d8"/><ellipse cx="110" cy="339.8" rx="2.64" ry="2.64" fill="#6cd658"/></g>
<g transform="rotate(0 121.5 343.6)" opacity="0.8"><ellipse cx="121.5" cy="343.6" rx="4.00" ry="3.60" fill="#5c52d2"/><ellipse cx="121.5" cy="343.6" rx="3.40" ry="3.06" fill="#4a7ee8"/><ellipse cx="121.5" cy="343.6" rx="2.80" ry="2.52" fill="#62d0d8"/><ellipse cx="121.5" cy="343.6" rx="2.20" ry="1.98" fill="#6cd658"/></g>
<g transform="rotate(0 109 353.7)" opacity="0.8"><ellipse cx="109" cy="353.7" rx="3.20" ry="6.00" fill="#5c52d2"/><ellipse cx="109" cy="353.7" rx="2.72" ry="5.10" fill="#4a7ee8"/><ellipse cx="109" cy="353.7" rx="2.24" ry="4.20" fill="#62d0d8"/><ellipse cx="109" cy="353.7" rx="1.60" ry="3.00" fill="#6cd658"/></g>
<g transform="rotate(0 120 355.2)" opacity="0.8"><ellipse cx="120" cy="355.2" rx="5.50" ry="5.00" fill="#5c52d2"/><ellipse cx="120" cy="355.2" rx="4.95" ry="4.50" fill="#4a7ee8"/><ellipse cx="120" cy="355.2" rx="4.40" ry="4.00" fill="#62d0d8"/><ellipse cx="120" cy="355.2" rx="3.85" ry="3.50" fill="#6cd658"/><ellipse cx="120" cy="355.2" rx="3.03" ry="2.75" fill="#e8e03c"/><ellipse cx="120" cy="355.2" rx="2.48" ry="2.25" fill="#ee8a2a"/><ellipse cx="120" cy="355.2" rx="2.09" ry="1.90" fill="#e0382a"/><ellipse cx="120" cy="355.2" rx="1.10" ry="1.00" fill="#c42424"/></g>
<g transform="rotate(0 121 385)" opacity="0.8"><ellipse cx="121" cy="385" rx="18.00" ry="10.00" fill="#5c52d2"/></g>
<g transform="rotate(0 109.5 381.7)" opacity="0.8"><ellipse cx="109.5" cy="381.7" rx="4.50" ry="7.00" fill="#5c52d2"/><ellipse cx="109.5" cy="381.7" rx="4.05" ry="6.30" fill="#4a7ee8"/><ellipse cx="109.5" cy="381.7" rx="3.60" ry="5.60" fill="#62d0d8"/><ellipse cx="109.5" cy="381.7" rx="2.93" ry="4.55" fill="#6cd658"/><ellipse cx="109.5" cy="381.7" rx="2.25" ry="3.50" fill="#e8e03c"/><ellipse cx="109.5" cy="381.7" rx="1.35" ry="2.10" fill="#ee8a2a"/></g>
<g transform="rotate(0 130.6 382.2)" opacity="0.8"><ellipse cx="130.6" cy="382.2" rx="8.50" ry="7.50" fill="#5c52d2"/><ellipse cx="130.6" cy="382.2" rx="7.82" ry="6.90" fill="#4a7ee8"/><ellipse cx="130.6" cy="382.2" rx="7.22" ry="6.38" fill="#62d0d8"/><ellipse cx="130.6" cy="382.2" rx="6.63" ry="5.85" fill="#6cd658"/><ellipse cx="130.6" cy="382.2" rx="5.95" ry="5.25" fill="#e8e03c"/><ellipse cx="130.6" cy="382.2" rx="5.53" ry="4.88" fill="#ee8a2a"/><ellipse cx="130.6" cy="382.2" rx="5.10" ry="4.50" fill="#e0382a"/><ellipse cx="130.6" cy="382.2" rx="2.55" ry="2.25" fill="#c42424"/></g>
</g></g>
<g clip-path="url(#cv3)">
<clipPath id="mb6"><path d="M177,327 C181,326 185,327 187,330 C194,336 199,350 200.6,362 C201,372 202,385 201,394.7 L171,394.7 C170,386 171,376 172,366 C172,355 173,342 173.5,333 C174,330 175.5,328 177,327 Z"/></clipPath>
<g filter="url(#bl2)">
<line x1="175.7" y1="395.2" x2="163.2" y2="398.3" stroke="#96928e" stroke-width="2.0" stroke-linecap="round"/>
<line x1="200.6" y1="397.8" x2="202.7" y2="403.5" stroke="#96928e" stroke-width="2.0" stroke-linecap="round"/>
<line x1="186" y1="398" x2="183.4" y2="407.7" stroke="#96928e" stroke-width="2.4" stroke-linecap="round"/>
<path d="M177,327 C181,326 185,327 187,330 C194,336 199,350 200.6,362 C201,372 202,385 201,394.7 L171,394.7 C170,386 171,376 172,366 C172,355 173,342 173.5,333 C174,330 175.5,328 177,327 Z" fill="#85807b" opacity="0.9"/>
<g clip-path="url(#mb6)"><g filter="url(#bl3)"><ellipse cx="190" cy="350" rx="8" ry="16" fill="#aaa69f" opacity="0.8"/></g></g>
<g clip-path="url(#mb6)"><rect x="30" y="230" width="190" height="185" filter="url(#fur)" opacity="0.55"/></g>
<path d="M188,380 L181,364 M188,380 L184,361 M188,380 L187,360 M188,380 L191,360 M188,380 L194,363 M188,380 L196,367 M188,380 L180,370 M188,380 L197,372" stroke="#e4e2dc" stroke-width="1.1" fill="none" opacity="0.9"/>
</g>
<g filter="url(#bl1)">
<g transform="rotate(0 179.8 341)" opacity="0.8"><ellipse cx="179.8" cy="341" rx="6.50" ry="15.00" fill="#5c52d2"/></g>
<g transform="rotate(0 177.2 347.4)" opacity="0.8"><ellipse cx="177.2" cy="347.4" rx="3.50" ry="5.00" fill="#5c52d2"/><ellipse cx="177.2" cy="347.4" rx="2.98" ry="4.25" fill="#4a7ee8"/><ellipse cx="177.2" cy="347.4" rx="2.45" ry="3.50" fill="#62d0d8"/><ellipse cx="177.2" cy="347.4" rx="1.93" ry="2.75" fill="#6cd658"/></g>
<g transform="rotate(0 186.5 384)" opacity="0.8"><ellipse cx="186.5" cy="384" rx="17.00" ry="15.00" fill="#5c52d2"/></g>
<g transform="rotate(35 183.5 391)" opacity="0.8"><ellipse cx="183.5" cy="391" rx="7.00" ry="5.00" fill="#5c52d2"/><ellipse cx="183.5" cy="391" rx="6.30" ry="4.50" fill="#4a7ee8"/><ellipse cx="183.5" cy="391" rx="5.60" ry="4.00" fill="#62d0d8"/><ellipse cx="183.5" cy="391" rx="4.90" ry="3.50" fill="#6cd658"/></g>
<g transform="rotate(0 173.1 383.3)" opacity="0.8"><ellipse cx="173.1" cy="383.3" rx="4.50" ry="4.50" fill="#5c52d2"/><ellipse cx="173.1" cy="383.3" rx="4.27" ry="4.27" fill="#4a7ee8"/><ellipse cx="173.1" cy="383.3" rx="4.05" ry="4.05" fill="#62d0d8"/><ellipse cx="173.1" cy="383.3" rx="3.82" ry="3.82" fill="#6cd658"/><ellipse cx="173.1" cy="383.3" rx="3.60" ry="3.60" fill="#e8e03c"/><ellipse cx="173.1" cy="383.3" rx="3.38" ry="3.38" fill="#ee8a2a"/><ellipse cx="173.1" cy="383.3" rx="2.93" ry="2.93" fill="#e0382a"/><ellipse cx="173.1" cy="383.3" rx="1.80" ry="1.80" fill="#c42424"/></g>
<g transform="rotate(0 199.5 385.4)" opacity="0.8"><ellipse cx="199.5" cy="385.4" rx="5.50" ry="11.00" fill="#5c52d2"/><ellipse cx="199.5" cy="385.4" rx="4.95" ry="9.90" fill="#4a7ee8"/><ellipse cx="199.5" cy="385.4" rx="4.67" ry="9.35" fill="#62d0d8"/><ellipse cx="199.5" cy="385.4" rx="4.40" ry="8.80" fill="#6cd658"/><ellipse cx="199.5" cy="385.4" rx="3.85" ry="7.70" fill="#e8e03c"/><ellipse cx="199.5" cy="385.4" rx="3.30" ry="6.60" fill="#ee8a2a"/><ellipse cx="199.5" cy="385.4" rx="2.86" ry="5.72" fill="#e0382a"/><ellipse cx="199.5" cy="385.4" rx="1.65" ry="3.30" fill="#c42424"/></g>
</g></g>
<rect x="83.2" y="371.2" width="11.90" height="37.80" fill="#f6f6f6"/>
<rect x="84.7" y="372.7" width="3" height="34.30" fill="url(#cbar)"/>
<rect x="89.2" y="379.3" width="3.7" height="1" fill="#9098b4"/>
<rect x="89.2" y="388.2" width="3.7" height="1" fill="#9098b4"/>
<rect x="89.2" y="397.1" width="3.7" height="1" fill="#9098b4"/>
<rect x="89.2" y="406.0" width="3.7" height="1" fill="#9098b4"/>
<rect x="140" y="371.2" width="12.70" height="37.40" fill="#f6f6f6"/>
<rect x="141.5" y="372.7" width="3" height="33.90" fill="url(#cbar)"/>
<rect x="146" y="379.3" width="3.7" height="1" fill="#9098b4"/>
<rect x="146" y="388.2" width="3.7" height="1" fill="#9098b4"/>
<rect x="146" y="397.1" width="3.7" height="1" fill="#9098b4"/>
<rect x="146" y="406.0" width="3.7" height="1" fill="#9098b4"/>
<rect x="205.8" y="371.3" width="11.70" height="37.10" fill="#f6f6f6"/>
<rect x="207.3" y="372.8" width="3" height="33.60" fill="url(#cbar)"/>
<rect x="211.8" y="379.4" width="3.7" height="1" fill="#9098b4"/>
<rect x="211.8" y="388.3" width="3.7" height="1" fill="#9098b4"/>
<rect x="211.8" y="397.2" width="3.7" height="1" fill="#9098b4"/>
<rect x="211.8" y="406.1" width="3.7" height="1" fill="#9098b4"/>
<text x="241.5" y="221" font-size="12" text-anchor="start" font-weight="bold" fill="#000">C</text>
<line x1="310.5" y1="232.3" x2="310.5" y2="382.5" stroke="#c4c4c4" stroke-width="1"/>
<line x1="310.5" y1="382.5" x2="458" y2="382.5" stroke="#c4c4c4" stroke-width="1"/>
<line x1="307.5" y1="382.5" x2="310.5" y2="382.5" stroke="#c4c4c4" stroke-width="1"/>
<text x="299" y="387.0" font-size="11" text-anchor="end" fill="#111">1.E+05</text>
<line x1="307.5" y1="352.46" x2="310.5" y2="352.46" stroke="#c4c4c4" stroke-width="1"/>
<text x="299" y="356.96" font-size="11" text-anchor="end" fill="#111">1.E+06</text>
<line x1="307.5" y1="322.42" x2="310.5" y2="322.42" stroke="#c4c4c4" stroke-width="1"/>
<text x="299" y="326.92" font-size="11" text-anchor="end" fill="#111">1.E+07</text>
<line x1="307.5" y1="292.38" x2="310.5" y2="292.38" stroke="#c4c4c4" stroke-width="1"/>
<text x="299" y="296.88" font-size="11" text-anchor="end" fill="#111">1.E+08</text>
<line x1="307.5" y1="262.34000000000003" x2="310.5" y2="262.34000000000003" stroke="#c4c4c4" stroke-width="1"/>
<text x="299" y="266.84000000000003" font-size="11" text-anchor="end" fill="#111">1.E+09</text>
<line x1="307.5" y1="232.3" x2="310.5" y2="232.3" stroke="#c4c4c4" stroke-width="1"/>
<text x="299" y="236.8" font-size="11" text-anchor="end" fill="#111">1.E+10</text>
<line x1="310.5" y1="382.5" x2="310.5" y2="385.5" stroke="#c4c4c4" stroke-width="1"/>
<line x1="359.5" y1="382.5" x2="359.5" y2="385.5" stroke="#c4c4c4" stroke-width="1"/>
<line x1="408.75" y1="382.5" x2="408.75" y2="385.5" stroke="#c4c4c4" stroke-width="1"/>
<line x1="458" y1="382.5" x2="458" y2="385.5" stroke="#c4c4c4" stroke-width="1"/>
<text x="334.5" y="405" font-size="11" text-anchor="middle" fill="#111">w1</text>
<text x="383.75" y="405" font-size="11" text-anchor="middle" fill="#111">w2</text>
<text x="432.5" y="405" font-size="11" text-anchor="middle" fill="#111">w6</text>
<text x="251.4" y="309" font-size="11.9" text-anchor="middle" fill="#111" transform="rotate(-90 251.4 309)">Tot. BLI (p/s)</text>
<line x1="334.8" y1="328" x2="334.8" y2="321" stroke="#000" stroke-width="1.1"/>
<line x1="331.8" y1="321" x2="337.8" y2="321" stroke="#000" stroke-width="1.1"/>
<line x1="334.8" y1="328" x2="334.8" y2="323.6" stroke="#000" stroke-width="1.1"/>
<line x1="331.8" y1="323.6" x2="337.8" y2="323.6" stroke="#000" stroke-width="1.1"/>
<line x1="383.8" y1="262.5" x2="383.8" y2="249.7" stroke="#000" stroke-width="1.1"/>
<line x1="380.8" y1="249.7" x2="386.8" y2="249.7" stroke="#000" stroke-width="1.1"/>
<line x1="383.8" y1="290.4" x2="383.8" y2="279" stroke="#000" stroke-width="1.1"/>
<line x1="380.8" y1="279" x2="386.8" y2="279" stroke="#000" stroke-width="1.1"/>
<line x1="432.3" y1="280" x2="432.3" y2="268" stroke="#000" stroke-width="1.1"/>
<line x1="429.3" y1="268" x2="435.3" y2="268" stroke="#000" stroke-width="1.1"/>
<line x1="383.8" y1="341.5" x2="383.8" y2="338.5" stroke="#000" stroke-width="1.1"/>
<line x1="380.8" y1="338.5" x2="386.8" y2="338.5" stroke="#000" stroke-width="1.1"/>
<line x1="432.3" y1="333.8" x2="432.3" y2="330" stroke="#000" stroke-width="1.1"/>
<line x1="429.3" y1="330" x2="435.3" y2="330" stroke="#000" stroke-width="1.1"/>
<polyline points="334.8,346.5 383.8,345.5 432.3,340" fill="none" stroke="#000" stroke-width="2.1"/>
<polyline points="334.8,346.5 383.8,341.5 432.3,333.8" fill="none" stroke="#000" stroke-width="2.1"/>
<polyline points="334.8,345 383.8,344 432.3,339" fill="none" stroke="#000" stroke-width="2.1"/>
<polyline points="334.8,331 383.8,301.6 432.3,251.8" fill="none" stroke="#000" stroke-width="1.9"/>
<polyline points="334.8,333 383.8,262.5 432.3,261" fill="none" stroke="#000" stroke-width="1.9"/>
<polyline points="334.8,344 383.8,290.4 432.3,280" fill="none" stroke="#000" stroke-width="1.9"/>
<rect x="331.30" y="343.00" width="7" height="7" fill="#000" stroke="#000" stroke-width="1.1"/>
<rect x="380.30" y="342.00" width="7" height="7" fill="#000" stroke="#000" stroke-width="1.1"/>
<rect x="428.80" y="336.50" width="7" height="7" fill="#000" stroke="#000" stroke-width="1.1"/>
<path d="M334.80,342.10 L338.80,350.10 L330.80,350.10 Z" fill="#000" stroke="#000" stroke-width="1.1" stroke-linejoin="miter"/>
<path d="M383.80,337.10 L387.80,345.10 L379.80,345.10 Z" fill="#000" stroke="#000" stroke-width="1.1" stroke-linejoin="miter"/>
<path d="M432.30,329.40 L436.30,337.40 L428.30,337.40 Z" fill="#000" stroke="#000" stroke-width="1.1" stroke-linejoin="miter"/>
<circle cx="334.8" cy="345" r="2.8" fill="#000" stroke="#000" stroke-width="1.1"/>
<circle cx="383.8" cy="344" r="2.8" fill="#000" stroke="#000" stroke-width="1.1"/>
<circle cx="432.3" cy="339" r="2.8" fill="#000" stroke="#000" stroke-width="1.1"/>
<rect x="331.30" y="327.50" width="7" height="7" fill="#fff" stroke="#000" stroke-width="1.1"/>
<rect x="380.30" y="298.10" width="7" height="7" fill="#fff" stroke="#000" stroke-width="1.1"/>
<rect x="428.80" y="248.30" width="7" height="7" fill="#fff" stroke="#000" stroke-width="1.1"/>
<path d="M334.80,328.60 L338.80,336.60 L330.80,336.60 Z" fill="#fff" stroke="#000" stroke-width="1.1" stroke-linejoin="miter"/>
<path d="M383.80,258.10 L387.80,266.10 L379.80,266.10 Z" fill="#fff" stroke="#000" stroke-width="1.1" stroke-linejoin="miter"/>
<path d="M432.30,256.60 L436.30,264.60 L428.30,264.60 Z" fill="#fff" stroke="#000" stroke-width="1.1" stroke-linejoin="miter"/>
<circle cx="334.8" cy="344" r="3.6" fill="#fff" stroke="#000" stroke-width="1.1"/>
<circle cx="383.8" cy="290.4" r="3.6" fill="#fff" stroke="#000" stroke-width="1.1"/>
<circle cx="432.3" cy="280" r="3.6" fill="#fff" stroke="#000" stroke-width="1.1"/>
<line x1="446.2" y1="256.9" x2="470.2" y2="256.9" stroke="#000" stroke-width="1.9"/>
<rect x="454.50" y="252.90" width="8" height="8" fill="#fff" stroke="#000" stroke-width="1.1"/>
<text x="473.5" y="260.9" font-size="11" text-anchor="start" fill="#111">Dia</text>
<line x1="446.2" y1="273.8" x2="470.2" y2="273.8" stroke="#000" stroke-width="1.9"/>
<path d="M458.50,268.95 L463.00,277.85 L454.00,277.85 Z" fill="#fff" stroke="#000" stroke-width="1.1" stroke-linejoin="miter"/>
<text x="473.5" y="277.8" font-size="11" text-anchor="start" fill="#111">Epi</text>
<line x1="446.2" y1="291.9" x2="470.2" y2="291.9" stroke="#000" stroke-width="1.9"/>
<circle cx="458.5" cy="291.9" r="4" fill="#fff" stroke="#000" stroke-width="1.1"/>
<text x="473.5" y="295.9" font-size="11" text-anchor="start" fill="#111">Cal</text>
<line x1="446.2" y1="307.5" x2="470.2" y2="307.5" stroke="#000" stroke-width="2.4"/>
<circle cx="458.5" cy="307.5" r="3" fill="#000" stroke="#000" stroke-width="1.1"/>
<text x="473.5" y="311.5" font-size="11" text-anchor="start" fill="#111">Non inj</text>
<line x1="446.2" y1="325.7" x2="470.2" y2="325.7" stroke="#000" stroke-width="2.4"/>
<rect x="454.50" y="321.70" width="8" height="8" fill="#000" stroke="#000" stroke-width="1.1"/>
<text x="473.5" y="329.7" font-size="11" text-anchor="start" fill="#111">Sca neg</text>
<line x1="446.2" y1="342.7" x2="470.2" y2="342.7" stroke="#000" stroke-width="2.4"/>
<path d="M458.50,337.85 L463.00,346.75 L454.00,346.75 Z" fill="#000" stroke="#000" stroke-width="1.1" stroke-linejoin="miter"/>
<text x="473.5" y="346.7" font-size="11" text-anchor="start" fill="#111">Non Irrad</text>
<text x="0" y="438.7" font-size="12" text-anchor="start" font-weight="bold" fill="#000">D</text>
<text x="54.6" y="439.5" font-size="11.65" text-anchor="start" font-weight="bold" fill="#000">Primary transplant</text>
<line x1="47.5" y1="474.3" x2="47.5" y2="606.3" stroke="#cfcfcf" stroke-width="1"/>
<line x1="47.5" y1="606.3" x2="223" y2="606.3" stroke="#cfcfcf" stroke-width="1"/>
<line x1="43.5" y1="474.3" x2="47.5" y2="474.3" stroke="#cfcfcf" stroke-width="1"/>
<text x="38.2" y="478.8" font-size="11" text-anchor="end" fill="#111">100</text>
<line x1="45.0" y1="505.0546801907848" x2="47.5" y2="505.0546801907848" stroke="#dcdcdc" stroke-width="0.8"/>
<line x1="45.0" y1="497.3066647923348" x2="47.5" y2="497.3066647923348" stroke="#dcdcdc" stroke-width="0.8"/>
<line x1="45.0" y1="491.8093603815696" x2="47.5" y2="491.8093603815696" stroke="#dcdcdc" stroke-width="0.8"/>
<line x1="45.0" y1="487.54531980921513" x2="47.5" y2="487.54531980921513" stroke="#dcdcdc" stroke-width="0.8"/>
<line x1="45.0" y1="484.0613449831196" x2="47.5" y2="484.0613449831196" stroke="#dcdcdc" stroke-width="0.8"/>
<line x1="45.0" y1="481.1156862393727" x2="47.5" y2="481.1156862393727" stroke="#dcdcdc" stroke-width="0.8"/>
<line x1="45.0" y1="478.56404057235443" x2="47.5" y2="478.56404057235443" stroke="#dcdcdc" stroke-width="0.8"/>
<line x1="45.0" y1="476.31332958466965" x2="47.5" y2="476.31332958466965" stroke="#dcdcdc" stroke-width="0.8"/>
<line x1="43.5" y1="518.3" x2="47.5" y2="518.3" stroke="#cfcfcf" stroke-width="1"/>
<text x="38.2" y="522.8" font-size="11" text-anchor="end" fill="#111">10</text>
<line x1="45.0" y1="549.0546801907848" x2="47.5" y2="549.0546801907848" stroke="#dcdcdc" stroke-width="0.8"/>
<line x1="45.0" y1="541.3066647923348" x2="47.5" y2="541.3066647923348" stroke="#dcdcdc" stroke-width="0.8"/>
<line x1="45.0" y1="535.8093603815696" x2="47.5" y2="535.8093603815696" stroke="#dcdcdc" stroke-width="0.8"/>
<line x1="45.0" y1="531.5453198092151" x2="47.5" y2="531.5453198092151" stroke="#dcdcdc" stroke-width="0.8"/>
<line x1="45.0" y1="528.0613449831196" x2="47.5" y2="528.0613449831196" stroke="#dcdcdc" stroke-width="0.8"/>
<line x1="45.0" y1="525.1156862393726" x2="47.5" y2="525.1156862393726" stroke="#dcdcdc" stroke-width="0.8"/>
<line x1="45.0" y1="522.5640405723544" x2="47.5" y2="522.5640405723544" stroke="#dcdcdc" stroke-width="0.8"/>
<line x1="45.0" y1="520.3133295846696" x2="47.5" y2="520.3133295846696" stroke="#dcdcdc" stroke-width="0.8"/>
<line x1="43.5" y1="562.3" x2="47.5" y2="562.3" stroke="#cfcfcf" stroke-width="1"/>
<text x="38.2" y="566.8" font-size="11" text-anchor="end" fill="#111">1</text>
<line x1="45.0" y1="593.0546801907848" x2="47.5" y2="593.0546801907848" stroke="#dcdcdc" stroke-width="0.8"/>
<line x1="45.0" y1="585.3066647923348" x2="47.5" y2="585.3066647923348" stroke="#dcdcdc" stroke-width="0.8"/>
<line x1="45.0" y1="579.8093603815696" x2="47.5" y2="579.8093603815696" stroke="#dcdcdc" stroke-width="0.8"/>
<line x1="45.0" y1="575.5453198092151" x2="47.5" y2="575.5453198092151" stroke="#dcdcdc" stroke-width="0.8"/>
<line x1="45.0" y1="572.0613449831196" x2="47.5" y2="572.0613449831196" stroke="#dcdcdc" stroke-width="0.8"/>
<line x1="45.0" y1="569.1156862393726" x2="47.5" y2="569.1156862393726" stroke="#dcdcdc" stroke-width="0.8"/>
<line x1="45.0" y1="566.5640405723544" x2="47.5" y2="566.5640405723544" stroke="#dcdcdc" stroke-width="0.8"/>
<line x1="45.0" y1="564.3133295846696" x2="47.5" y2="564.3133295846696" stroke="#dcdcdc" stroke-width="0.8"/>
<line x1="43.5" y1="606.3" x2="47.5" y2="606.3" stroke="#cfcfcf" stroke-width="1"/>
<text x="38.2" y="610.8" font-size="11" text-anchor="end" fill="#111">0.1</text>
<text x="9" y="538.3" font-size="11" text-anchor="middle" fill="#111" transform="rotate(-90 9 538.3)">Chimerism (% donor)</text>
<text x="70.2" y="458" font-size="9" text-anchor="middle" font-weight="bold" fill="#707070">Tot</text>
<text x="116.7" y="458" font-size="9" text-anchor="middle" font-weight="bold" fill="#707070">Lym. B</text>
<text x="162.2" y="458" font-size="9" text-anchor="middle" font-weight="bold" fill="#707070">Lym. T</text>
<text x="205.2" y="458" font-size="9" text-anchor="middle" font-weight="bold" fill="#707070">Myelo</text>
<text x="64.6" y="617" font-size="10" text-anchor="middle" font-weight="bold" fill="#000">L</text>
<text x="77.4" y="617" font-size="10" text-anchor="middle" font-weight="bold" fill="#000">C</text>
<text x="109.4" y="617" font-size="10" text-anchor="middle" font-weight="bold" fill="#000">L</text>
<text x="122.3" y="617" font-size="10" text-anchor="middle" font-weight="bold" fill="#000">C</text>
<text x="155" y="617" font-size="10" text-anchor="middle" font-weight="bold" fill="#000">L</text>
<text x="168" y="617" font-size="10" text-anchor="middle" font-weight="bold" fill="#000">C</text>
<text x="199.2" y="617" font-size="10" text-anchor="middle" font-weight="bold" fill="#000">L</text>
<text x="212.6" y="617" font-size="10" text-anchor="middle" font-weight="bold" fill="#000">C</text>
<circle cx="62.7" cy="487.5" r="3.9" fill="none" stroke="#1e1e1e" stroke-width="1.1"/>
<circle cx="62.7" cy="496.7" r="3.9" fill="none" stroke="#1e1e1e" stroke-width="1.1"/>
<circle cx="62.7" cy="507.7" r="3.9" fill="none" stroke="#1e1e1e" stroke-width="1.1"/>
<circle cx="62.7" cy="564.2" r="3.9" fill="none" stroke="#1e1e1e" stroke-width="1.1"/>
<circle cx="62.7" cy="566.3" r="3.9" fill="none" stroke="#1e1e1e" stroke-width="1.1"/>
<line x1="56.7" y1="505" x2="68.7" y2="505" stroke="#000" stroke-width="2.6"/>
<circle cx="77.7" cy="496.5" r="3.9" fill="none" stroke="#1e1e1e" stroke-width="1.1"/>
<circle cx="77.7" cy="499" r="3.9" fill="none" stroke="#1e1e1e" stroke-width="1.1"/>
<circle cx="77.7" cy="502" r="3.9" fill="none" stroke="#1e1e1e" stroke-width="1.1"/>
<circle cx="77.7" cy="505.5" r="3.9" fill="none" stroke="#1e1e1e" stroke-width="1.1"/>
<circle cx="77.7" cy="548" r="3.9" fill="none" stroke="#1e1e1e" stroke-width="1.1"/>
<circle cx="77.7" cy="559.5" r="3.9" fill="none" stroke="#1e1e1e" stroke-width="1.1"/>
<line x1="71.7" y1="507.7" x2="83.7" y2="507.7" stroke="#000" stroke-width="2.6"/>
<circle cx="108.1" cy="479.6" r="3.9" fill="none" stroke="#1e1e1e" stroke-width="1.1"/>
<circle cx="108.1" cy="484.6" r="3.9" fill="none" stroke="#1e1e1e" stroke-width="1.1"/>
<circle cx="108.1" cy="495" r="3.9" fill="none" stroke="#1e1e1e" stroke-width="1.1"/>
<circle cx="108.1" cy="542.8" r="3.9" fill="none" stroke="#1e1e1e" stroke-width="1.1"/>
<circle cx="108.1" cy="564" r="3.9" fill="none" stroke="#1e1e1e" stroke-width="1.1"/>
<line x1="102.1" y1="494.9" x2="114.1" y2="494.9" stroke="#000" stroke-width="2.6"/>
<circle cx="123" cy="482.5" r="3.9" fill="none" stroke="#1e1e1e" stroke-width="1.1"/>
<circle cx="123" cy="488" r="3.9" fill="none" stroke="#1e1e1e" stroke-width="1.1"/>
<circle cx="123" cy="492.7" r="3.9" fill="none" stroke="#1e1e1e" stroke-width="1.1"/>
<circle cx="123" cy="496" r="3.9" fill="none" stroke="#1e1e1e" stroke-width="1.1"/>
<circle cx="123" cy="529.6" r="3.9" fill="none" stroke="#1e1e1e" stroke-width="1.1"/>
<circle cx="123" cy="539" r="3.9" fill="none" stroke="#1e1e1e" stroke-width="1.1"/>
<line x1="117" y1="492.5" x2="129" y2="492.5" stroke="#000" stroke-width="2.6"/>
<circle cx="153" cy="478" r="3.9" fill="none" stroke="#1e1e1e" stroke-width="1.1"/>
<circle cx="153" cy="480.6" r="3.9" fill="none" stroke="#1e1e1e" stroke-width="1.1"/>
<circle cx="153" cy="483.2" r="3.9" fill="none" stroke="#1e1e1e" stroke-width="1.1"/>
<circle cx="153" cy="518.5" r="3.9" fill="none" stroke="#1e1e1e" stroke-width="1.1"/>
<circle cx="153" cy="520.5" r="3.9" fill="none" stroke="#1e1e1e" stroke-width="1.1"/>
<line x1="147" y1="488.4" x2="159" y2="488.4" stroke="#000" stroke-width="2.6"/>
<circle cx="168.2" cy="479.8" r="3.9" fill="none" stroke="#1e1e1e" stroke-width="1.1"/>
<circle cx="168.2" cy="482.4" r="3.9" fill="none" stroke="#1e1e1e" stroke-width="1.1"/>
<circle cx="168.2" cy="484.5" r="3.9" fill="none" stroke="#1e1e1e" stroke-width="1.1"/>
<circle cx="168.2" cy="506.2" r="3.9" fill="none" stroke="#1e1e1e" stroke-width="1.1"/>
<circle cx="168.2" cy="508.8" r="3.9" fill="none" stroke="#1e1e1e" stroke-width="1.1"/>
<line x1="162.2" y1="484" x2="174.2" y2="484" stroke="#000" stroke-width="2.6"/>
<circle cx="198.4" cy="493.5" r="3.9" fill="none" stroke="#1e1e1e" stroke-width="1.1"/>
<circle cx="198.4" cy="502.5" r="3.9" fill="none" stroke="#1e1e1e" stroke-width="1.1"/>
<circle cx="198.4" cy="517.8" r="3.9" fill="none" stroke="#1e1e1e" stroke-width="1.1"/>
<circle cx="198.4" cy="572.8" r="3.9" fill="none" stroke="#1e1e1e" stroke-width="1.1"/>
<circle cx="198.4" cy="597.3" r="3.9" fill="none" stroke="#1e1e1e" stroke-width="1.1"/>
<line x1="192.4" y1="511.9" x2="204.4" y2="511.9" stroke="#000" stroke-width="2.6"/>
<circle cx="213" cy="499.4" r="3.9" fill="none" stroke="#1e1e1e" stroke-width="1.1"/>
<circle cx="213" cy="505.5" r="3.9" fill="none" stroke="#1e1e1e" stroke-width="1.1"/>
<circle cx="213" cy="509.5" r="3.9" fill="none" stroke="#1e1e1e" stroke-width="1.1"/>
<circle cx="213" cy="511.7" r="3.9" fill="none" stroke="#1e1e1e" stroke-width="1.1"/>
<circle cx="213" cy="554.2" r="3.9" fill="none" stroke="#1e1e1e" stroke-width="1.1"/>
<circle cx="213" cy="598.7" r="3.9" fill="none" stroke="#1e1e1e" stroke-width="1.1"/>
<line x1="207" y1="509.6" x2="219" y2="509.6" stroke="#000" stroke-width="2.6"/>
<text x="262" y="439" font-size="12" text-anchor="start" font-weight="bold" fill="#000">E</text>
<text x="305.8" y="440" font-size="11.6" text-anchor="start" font-weight="bold" fill="#000">Secondary transplant</text>
<line x1="309.5" y1="475.4" x2="309.5" y2="607.0" stroke="#cfcfcf" stroke-width="1"/>
<line x1="309.5" y1="607.0" x2="486" y2="607.0" stroke="#cfcfcf" stroke-width="1"/>
<line x1="305.5" y1="475.4" x2="309.5" y2="475.4" stroke="#cfcfcf" stroke-width="1"/>
<text x="301" y="479.29999999999995" font-size="11" text-anchor="end" fill="#111">100</text>
<line x1="307.0" y1="493.79689051412396" x2="309.5" y2="493.79689051412396" stroke="#dcdcdc" stroke-width="0.8"/>
<line x1="307.0" y1="489.1621685757785" x2="309.5" y2="489.1621685757785" stroke="#dcdcdc" stroke-width="0.8"/>
<line x1="307.0" y1="485.873781028248" x2="309.5" y2="485.873781028248" stroke="#dcdcdc" stroke-width="0.8"/>
<line x1="307.0" y1="483.32310948587593" x2="309.5" y2="483.32310948587593" stroke="#dcdcdc" stroke-width="0.8"/>
<line x1="307.0" y1="481.23905908990247" x2="309.5" y2="481.23905908990247" stroke="#dcdcdc" stroke-width="0.8"/>
<line x1="307.0" y1="479.4770195868247" x2="309.5" y2="479.4770195868247" stroke="#dcdcdc" stroke-width="0.8"/>
<line x1="307.0" y1="477.950671542372" x2="309.5" y2="477.950671542372" stroke="#dcdcdc" stroke-width="0.8"/>
<line x1="307.0" y1="476.60433715155693" x2="309.5" y2="476.60433715155693" stroke="#dcdcdc" stroke-width="0.8"/>
<line x1="305.5" y1="501.71999999999997" x2="309.5" y2="501.71999999999997" stroke="#cfcfcf" stroke-width="1"/>
<text x="301" y="505.61999999999995" font-size="11" text-anchor="end" fill="#111">10</text>
<line x1="307.0" y1="520.116890514124" x2="309.5" y2="520.116890514124" stroke="#dcdcdc" stroke-width="0.8"/>
<line x1="307.0" y1="515.4821685757785" x2="309.5" y2="515.4821685757785" stroke="#dcdcdc" stroke-width="0.8"/>
<line x1="307.0" y1="512.1937810282479" x2="309.5" y2="512.1937810282479" stroke="#dcdcdc" stroke-width="0.8"/>
<line x1="307.0" y1="509.6431094858759" x2="309.5" y2="509.6431094858759" stroke="#dcdcdc" stroke-width="0.8"/>
<line x1="307.0" y1="507.55905908990246" x2="309.5" y2="507.55905908990246" stroke="#dcdcdc" stroke-width="0.8"/>
<line x1="307.0" y1="505.7970195868247" x2="309.5" y2="505.7970195868247" stroke="#dcdcdc" stroke-width="0.8"/>
<line x1="307.0" y1="504.270671542372" x2="309.5" y2="504.270671542372" stroke="#dcdcdc" stroke-width="0.8"/>
<line x1="307.0" y1="502.9243371515569" x2="309.5" y2="502.9243371515569" stroke="#dcdcdc" stroke-width="0.8"/>
<line x1="305.5" y1="528.04" x2="309.5" y2="528.04" stroke="#cfcfcf" stroke-width="1"/>
<text x="301" y="531.9399999999999" font-size="11" text-anchor="end" fill="#111">1</text>
<line x1="307.0" y1="546.436890514124" x2="309.5" y2="546.436890514124" stroke="#dcdcdc" stroke-width="0.8"/>
<line x1="307.0" y1="541.8021685757785" x2="309.5" y2="541.8021685757785" stroke="#dcdcdc" stroke-width="0.8"/>
<line x1="307.0" y1="538.513781028248" x2="309.5" y2="538.513781028248" stroke="#dcdcdc" stroke-width="0.8"/>
<line x1="307.0" y1="535.963109485876" x2="309.5" y2="535.963109485876" stroke="#dcdcdc" stroke-width="0.8"/>
<line x1="307.0" y1="533.8790590899025" x2="309.5" y2="533.8790590899025" stroke="#dcdcdc" stroke-width="0.8"/>
<line x1="307.0" y1="532.1170195868248" x2="309.5" y2="532.1170195868248" stroke="#dcdcdc" stroke-width="0.8"/>
<line x1="307.0" y1="530.5906715423721" x2="309.5" y2="530.5906715423721" stroke="#dcdcdc" stroke-width="0.8"/>
<line x1="307.0" y1="529.244337151557" x2="309.5" y2="529.244337151557" stroke="#dcdcdc" stroke-width="0.8"/>
<line x1="305.5" y1="554.36" x2="309.5" y2="554.36" stroke="#cfcfcf" stroke-width="1"/>
<text x="301" y="558.26" font-size="11" text-anchor="end" fill="#111">0.1</text>
<line x1="307.0" y1="572.756890514124" x2="309.5" y2="572.756890514124" stroke="#dcdcdc" stroke-width="0.8"/>
<line x1="307.0" y1="568.1221685757786" x2="309.5" y2="568.1221685757786" stroke="#dcdcdc" stroke-width="0.8"/>
<line x1="307.0" y1="564.833781028248" x2="309.5" y2="564.833781028248" stroke="#dcdcdc" stroke-width="0.8"/>
<line x1="307.0" y1="562.283109485876" x2="309.5" y2="562.283109485876" stroke="#dcdcdc" stroke-width="0.8"/>
<line x1="307.0" y1="560.1990590899026" x2="309.5" y2="560.1990590899026" stroke="#dcdcdc" stroke-width="0.8"/>
<line x1="307.0" y1="558.4370195868248" x2="309.5" y2="558.4370195868248" stroke="#dcdcdc" stroke-width="0.8"/>
<line x1="307.0" y1="556.9106715423721" x2="309.5" y2="556.9106715423721" stroke="#dcdcdc" stroke-width="0.8"/>
<line x1="307.0" y1="555.5643371515571" x2="309.5" y2="555.5643371515571" stroke="#dcdcdc" stroke-width="0.8"/>
<line x1="305.5" y1="580.68" x2="309.5" y2="580.68" stroke="#cfcfcf" stroke-width="1"/>
<text x="301" y="584.5799999999999" font-size="11" text-anchor="end" fill="#111">0.01</text>
<line x1="307.0" y1="599.076890514124" x2="309.5" y2="599.076890514124" stroke="#dcdcdc" stroke-width="0.8"/>
<line x1="307.0" y1="594.4421685757785" x2="309.5" y2="594.4421685757785" stroke="#dcdcdc" stroke-width="0.8"/>
<line x1="307.0" y1="591.153781028248" x2="309.5" y2="591.153781028248" stroke="#dcdcdc" stroke-width="0.8"/>
<line x1="307.0" y1="588.603109485876" x2="309.5" y2="588.603109485876" stroke="#dcdcdc" stroke-width="0.8"/>
<line x1="307.0" y1="586.5190590899025" x2="309.5" y2="586.5190590899025" stroke="#dcdcdc" stroke-width="0.8"/>
<line x1="307.0" y1="584.7570195868248" x2="309.5" y2="584.7570195868248" stroke="#dcdcdc" stroke-width="0.8"/>
<line x1="307.0" y1="583.2306715423721" x2="309.5" y2="583.2306715423721" stroke="#dcdcdc" stroke-width="0.8"/>
<line x1="307.0" y1="581.884337151557" x2="309.5" y2="581.884337151557" stroke="#dcdcdc" stroke-width="0.8"/>
<line x1="305.5" y1="607.0" x2="309.5" y2="607.0" stroke="#cfcfcf" stroke-width="1"/>
<text x="301" y="610.9" font-size="11" text-anchor="end" fill="#111">0.001</text>
<text x="270" y="539.2" font-size="11" text-anchor="middle" fill="#111" transform="rotate(-90 270 539.2)">Chimerism (% donor)</text>
<text x="331.7" y="458" font-size="9" text-anchor="middle" font-weight="bold" fill="#707070">Tot</text>
<text x="378.7" y="458" font-size="9" text-anchor="middle" font-weight="bold" fill="#707070">Lym. B</text>
<text x="423.9" y="458" font-size="9" text-anchor="middle" font-weight="bold" fill="#707070">Lym. T</text>
<text x="466.3" y="458" font-size="9" text-anchor="middle" font-weight="bold" fill="#707070">Myelo</text>
<text x="325.5" y="617" font-size="10" text-anchor="middle" font-weight="bold" fill="#000">L</text>
<text x="339" y="617" font-size="10" text-anchor="middle" font-weight="bold" fill="#000">C</text>
<text x="370.3" y="617" font-size="10" text-anchor="middle" font-weight="bold" fill="#000">L</text>
<text x="383.3" y="617" font-size="10" text-anchor="middle" font-weight="bold" fill="#000">C</text>
<text x="414.3" y="617" font-size="10" text-anchor="middle" font-weight="bold" fill="#000">L</text>
<text x="427.5" y="617" font-size="10" text-anchor="middle" font-weight="bold" fill="#000">C</text>
<text x="458" y="617" font-size="10" text-anchor="middle" font-weight="bold" fill="#000">L</text>
<text x="471.3" y="617" font-size="10" text-anchor="middle" font-weight="bold" fill="#000">C</text>
<circle cx="325.1" cy="525.5" r="3.9" fill="none" stroke="#1e1e1e" stroke-width="1.1"/>
<circle cx="325.1" cy="529" r="3.9" fill="none" stroke="#1e1e1e" stroke-width="1.1"/>
<circle cx="325.1" cy="534.5" r="3.9" fill="none" stroke="#1e1e1e" stroke-width="1.1"/>
<line x1="320.1" y1="528.8" x2="330.1" y2="528.8" stroke="#000" stroke-width="2.6"/>
<circle cx="339.4" cy="522.2" r="3.9" fill="none" stroke="#1e1e1e" stroke-width="1.1"/>
<circle cx="339.4" cy="525" r="3.9" fill="none" stroke="#1e1e1e" stroke-width="1.1"/>
<circle cx="339.4" cy="530" r="3.9" fill="none" stroke="#1e1e1e" stroke-width="1.1"/>
<circle cx="339.4" cy="532.5" r="3.9" fill="none" stroke="#1e1e1e" stroke-width="1.1"/>
<circle cx="339.4" cy="534.7" r="3.9" fill="none" stroke="#1e1e1e" stroke-width="1.1"/>
<line x1="334.4" y1="527.2" x2="344.4" y2="527.2" stroke="#000" stroke-width="2.6"/>
<circle cx="368.2" cy="513.3" r="3.9" fill="none" stroke="#1e1e1e" stroke-width="1.1"/>
<circle cx="368.2" cy="520.5" r="3.9" fill="none" stroke="#1e1e1e" stroke-width="1.1"/>
<line x1="363.2" y1="517.2" x2="373.2" y2="517.2" stroke="#000" stroke-width="2.6"/>
<circle cx="383.1" cy="502.6" r="3.9" fill="none" stroke="#1e1e1e" stroke-width="1.1"/>
<circle cx="383.1" cy="510.6" r="3.9" fill="none" stroke="#1e1e1e" stroke-width="1.1"/>
<circle cx="383.1" cy="518" r="3.9" fill="none" stroke="#1e1e1e" stroke-width="1.1"/>
<circle cx="383.1" cy="525" r="3.9" fill="none" stroke="#1e1e1e" stroke-width="1.1"/>
<line x1="378.1" y1="512.3" x2="388.1" y2="512.3" stroke="#000" stroke-width="2.6"/>
<circle cx="412.1" cy="500.2" r="3.9" fill="none" stroke="#1e1e1e" stroke-width="1.1"/>
<circle cx="412.1" cy="515.5" r="3.9" fill="none" stroke="#1e1e1e" stroke-width="1.1"/>
<circle cx="412.1" cy="518.7" r="3.9" fill="none" stroke="#1e1e1e" stroke-width="1.1"/>
<line x1="407.1" y1="508.1" x2="417.1" y2="508.1" stroke="#000" stroke-width="2.6"/>
<circle cx="426.7" cy="506.2" r="3.9" fill="none" stroke="#1e1e1e" stroke-width="1.1"/>
<circle cx="426.7" cy="512.6" r="3.9" fill="none" stroke="#1e1e1e" stroke-width="1.1"/>
<circle cx="426.7" cy="516" r="3.9" fill="none" stroke="#1e1e1e" stroke-width="1.1"/>
<circle cx="426.7" cy="519" r="3.9" fill="none" stroke="#1e1e1e" stroke-width="1.1"/>
<circle cx="426.7" cy="522" r="3.9" fill="none" stroke="#1e1e1e" stroke-width="1.1"/>
<line x1="421.7" y1="513.7" x2="431.7" y2="513.7" stroke="#000" stroke-width="2.6"/>
<circle cx="456" cy="548.2" r="3.9" fill="none" stroke="#1e1e1e" stroke-width="1.1"/>
<circle cx="456" cy="550.2" r="3.9" fill="none" stroke="#1e1e1e" stroke-width="1.1"/>
<circle cx="456" cy="564.3" r="3.9" fill="none" stroke="#1e1e1e" stroke-width="1.1"/>
<line x1="451" y1="552.4" x2="461" y2="552.4" stroke="#000" stroke-width="2.6"/>
<circle cx="470.3" cy="546.3" r="3.9" fill="none" stroke="#1e1e1e" stroke-width="1.1"/>
<circle cx="470.3" cy="552.4" r="3.9" fill="none" stroke="#1e1e1e" stroke-width="1.1"/>
<circle cx="470.3" cy="562" r="3.9" fill="none" stroke="#1e1e1e" stroke-width="1.1"/>
<circle cx="470.3" cy="572.3" r="3.9" fill="none" stroke="#1e1e1e" stroke-width="1.1"/>
<circle cx="470.3" cy="589.1" r="3.9" fill="none" stroke="#1e1e1e" stroke-width="1.1"/>
<line x1="465.3" y1="557.3" x2="475.3" y2="557.3" stroke="#000" stroke-width="2.6"/>
</svg>
</body></html>
